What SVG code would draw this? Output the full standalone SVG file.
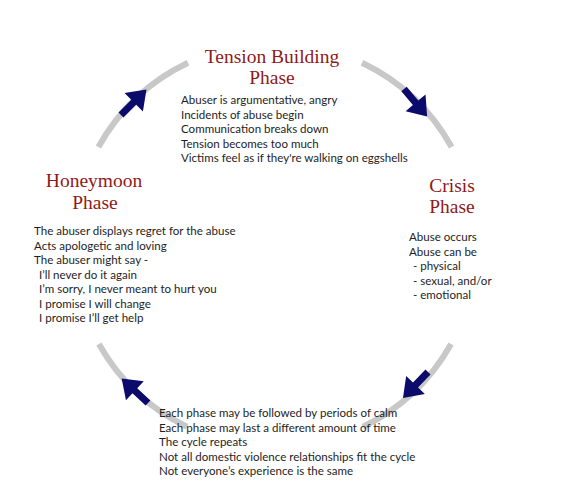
<svg xmlns="http://www.w3.org/2000/svg" width="562" height="500" viewBox="0 0 562 500">
<style>
.ring{fill:none;stroke:#c8c8c8;stroke-width:6}
.title{font-family:"Liberation Serif",serif;font-size:19.5px;fill:#8f1a1a;text-anchor:middle}
.body{font-family:Lato,"Liberation Sans",sans-serif;font-size:11.55px;fill:#1e1e1e}
.arr{fill:#0b0b6b}
</style>
<defs>
<path id="arrow" d="M0,-3.5 L18,-3.5 L18,-13 L36,0 L18,13 L18,3.5 L0,3.5 Z"/>
</defs>
<rect width="562" height="500" fill="#ffffff"/>
<g id="connectors">
<path class="ring" d="M98.4,147 A202,202 0 0 1 188,62.7"/>
<path class="ring" d="M362,62.7 A202,202 0 0 1 451.6,147"/>
<path class="ring" d="M451.1,344 A202,202 0 0 1 363,426.8"/>
<path class="ring" d="M187,426.8 A202,202 0 0 1 98.9,344"/>
<use href="#arrow" class="arr" transform="translate(121,115) rotate(-45)"/>
<use href="#arrow" class="arr" transform="translate(404,89) rotate(50)"/>
<use href="#arrow" class="arr" transform="translate(428,372) rotate(134)"/>
<use href="#arrow" class="arr" transform="translate(148,403) rotate(-137)"/>
</g>
<g id="tension">
<text class="title" x="272" y="63">Tension Building</text>
<text class="title" x="272" y="84">Phase</text>
<text class="body" x="181" y="104">Abuser is argumentative, angry</text>
<text class="body" x="181" y="118.5">Incidents of abuse begin</text>
<text class="body" x="181" y="133">Communication breaks down</text>
<text class="body" x="181" y="147.5">Tension becomes too much</text>
<text class="body" x="181" y="162">Victims feel as if they're walking on eggshells</text>
</g>
<g id="crisis">
<text class="title" x="452" y="192">Crisis</text>
<text class="title" x="452" y="213">Phase</text>
<text class="body" x="409" y="241">Abuse occurs</text>
<text class="body" x="409" y="255.5">Abuse can be</text>
<text class="body" x="413" y="270">- physical</text>
<text class="body" x="413" y="284.5">- sexual, and/or</text>
<text class="body" x="413" y="299">- emotional</text>
</g>
<g id="honeymoon">
<text class="title" x="94" y="187">Honeymoon</text>
<text class="title" x="95" y="209">Phase</text>
<text class="body" x="34" y="235">The abuser displays regret for the abuse</text>
<text class="body" x="34" y="249.5">Acts apologetic and loving</text>
<text class="body" x="34" y="264">The abuser might say -</text>
<text class="body" x="39" y="278.5">I’ll never do it again</text>
<text class="body" x="39" y="293">I’m sorry, I never meant to hurt you</text>
<text class="body" x="39" y="307.5">I promise I will change</text>
<text class="body" x="39" y="322">I promise I’ll get help</text>
</g>
<g id="notes">
<text class="body" x="159" y="417">Each phase may be followed by periods of calm</text>
<text class="body" x="159" y="431.5">Each phase may last a different amount of time</text>
<text class="body" x="159" y="446">The cycle repeats</text>
<text class="body" x="159" y="460.5">Not all domestic violence relationships fit the cycle</text>
<text class="body" x="159" y="475">Not everyone’s experience is the same</text>
</g>
</svg>
